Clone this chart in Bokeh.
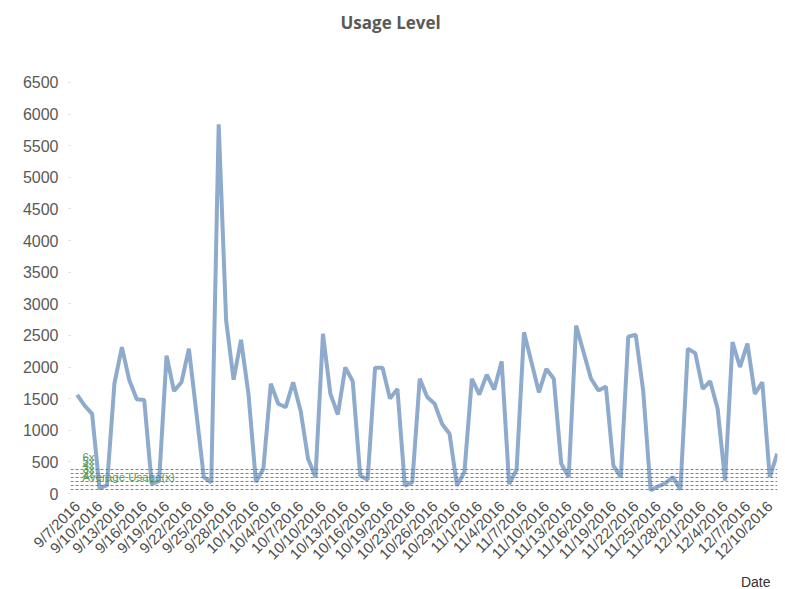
from bokeh.plotting import figure
from bokeh.models import Range1d, FixedTicker, Span, Label, Title
from bokeh.embed import file_html
from bokeh.resources import INLINE

# ---- data ----
usage = [1560, 1390, 1260, 80, 130, 1740, 2315, 1790, 1490, 1480,
         150, 200, 2180, 1620, 1760, 2290, 1280, 260, 175, 5840,
         2735, 1800, 2430, 1575, 180, 390, 1735, 1420, 1365, 1760,
         1310, 550, 260, 2525, 1575, 1250, 1995, 1775, 285, 215,
         1990, 1990, 1500, 1655, 125, 180, 1815, 1525, 1420, 1100,
         945, 125, 340, 1815, 1565, 1880, 1645, 2090, 150, 375,
         2550, 2075, 1600, 1970, 1815, 470, 260, 2655, 2235, 1815,
         1630, 1690, 440, 260, 2480, 2510, 1630, 50, 110, 165,
         260, 60, 2290, 2220, 1655, 1775, 1340, 205, 2395, 2000,
         2370, 1575, 1760, 260, 630]

tick_labels = ["9/7/2016", "9/10/2016", "9/13/2016", "9/16/2016", "9/19/2016",
               "9/22/2016", "9/25/2016", "9/28/2016", "10/1/2016", "10/4/2016",
               "10/7/2016", "10/10/2016", "10/13/2016", "10/16/2016", "10/19/2016",
               "10/23/2016", "10/26/2016", "10/29/2016", "11/1/2016", "11/4/2016",
               "11/7/2016", "11/10/2016", "11/13/2016", "11/16/2016", "11/19/2016",
               "11/22/2016", "11/25/2016", "11/28/2016", "12/1/2016", "12/4/2016",
               "12/7/2016", "12/10/2016"]
tick_step = 3

y_ticks = [0, 500, 1000, 1500, 2000, 2500, 3000, 3500, 4000, 4500, 5000, 5500, 6000, 6500]

avg_usage = 63.3
ref_multipliers = [1, 2, 3, 4, 5, 6]
ref_labels = ["Average Usage(x)", "2x", "3x", "4x", "5x", "6x"]

# ---- figure ----
x = list(range(len(usage)))
tick_pos = [i * tick_step for i in range(len(tick_labels))]

Y_END = 7164
p = figure(width=785, height=589, output_backend="svg", toolbar_location=None,
           x_range=Range1d(-0.9, 94.04), y_range=Range1d(0, Y_END),
           min_border_left=70, min_border_right=8, min_border_top=40,
           min_border_bottom=96)
p.outline_line_color = None
p.background_fill_color = "white"
p.border_fill_color = "white"
p.grid.visible = False

p.title.text = "Usage Level"
p.title.align = "left"
p.title.offset = 270
p.title.standoff = 14
p.title.text_font = "Open Sans"
p.title.text_font_size = "17px"
p.title.text_font_style = "bold"
p.title.text_color = "#595959"

# y axis
p.yaxis.ticker = FixedTicker(ticks=y_ticks)
p.yaxis.axis_line_color = None
p.yaxis.major_tick_out = 2
p.yaxis.major_tick_in = 0
p.yaxis.major_tick_line_color = "#d9d9d9"
p.yaxis.minor_tick_line_color = None
p.yaxis.major_label_text_font = "Liberation Sans"
p.yaxis.major_label_text_font_size = "16px"
p.yaxis.major_label_text_color = "#595959"
p.yaxis.major_label_standoff = 10

# x axis
p.xaxis.ticker = FixedTicker(ticks=tick_pos)
p.xaxis.major_label_overrides = {pos: lab for pos, lab in zip(tick_pos, tick_labels)}
p.xaxis.major_label_orientation = 0.785398
p.xaxis.axis_line_color = None
p.xaxis.major_tick_out = 0
p.xaxis.major_tick_in = 0
p.xaxis.major_tick_line_color = None
p.xaxis.minor_tick_line_color = None
p.xaxis.major_label_text_font = "Liberation Sans"
p.xaxis.major_label_text_font_size = "15px"
p.xaxis.major_label_text_color = "#4d4d4d"
p.xaxis.major_label_standoff = 10

p.add_layout(Title(text="Date", align="right", offset=7, standoff=0,
                   text_font="Liberation Sans",
                   text_font_size="14px", text_font_style="normal",
                   text_color="#333333"), "below")

# reference lines
for m, lab in zip(ref_multipliers, ref_labels):
    yv = avg_usage * m
    p.add_layout(Span(location=yv, dimension="width", line_color="#4f8f4f",
                      line_dash="3 2", line_width=1, line_alpha=0.9))
    p.add_layout(Label(x=0.7, y=yv, text=lab, y_offset=12,
                       text_baseline="middle", text_font="Liberation Sans",
                       text_font_size="11.5px", text_color="#5f9a5f"))

p.line(x, usage, line_color="#8eabcd", line_width=4)

open("out.html", "w").write(file_html(p, INLINE))
